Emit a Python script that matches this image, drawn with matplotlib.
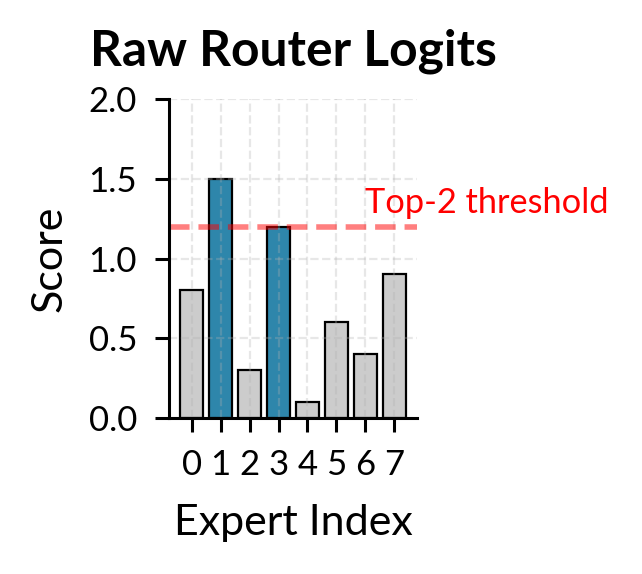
import matplotlib
matplotlib.use("Agg")
import matplotlib.pyplot as plt

# Data
experts = [0, 1, 2, 3, 4, 5, 6, 7]
logits = [0.8, 1.5, 0.3, 1.2, 0.1, 0.6, 0.4, 0.9]
selected = [1, 3]
threshold = 1.2
title = "Raw Router Logits"
xlabel = "Expert Index"
ylabel = "Score"
yticks = [0.0, 0.5, 1.0, 1.5, 2.0]

plt.rcParams["font.family"] = ["Lato", "DejaVu Sans"]

fig = plt.figure(figsize=(3.21, 2.87), dpi=200)
ax = fig.add_axes([0.2632, 0.2718, 0.3863, 0.5557])

colors = ["#2E86AB" if i in selected else "#CCCCCC" for i in experts]
ax.bar(experts, logits, width=0.8, color=colors, edgecolor="black", linewidth=0.8)
ax.axhline(threshold, color="red", linestyle="--", linewidth=2, alpha=0.5)
ax.text(6, threshold + 0.05, "Top-2 threshold", color="red", fontsize=12.4,
        ha="left", va="bottom")

ax.set_ylim(0, 2.0)
ax.set_yticks(yticks)
ax.set_yticklabels([f"{v:.1f}" for v in yticks])
ax.set_xticks(experts)
ax.grid(True, linestyle="--", color="#b0b0b0", linewidth=0.8, alpha=0.3)

for s in ["top", "right"]:
    ax.spines[s].set_visible(False)
for s in ["left", "bottom"]:
    ax.spines[s].set_linewidth(1.1)
ax.tick_params(axis="both", length=5, width=1.1, labelsize=12.5)
ax.tick_params(axis="x", pad=6)
ax.tick_params(axis="y", pad=6.5)

ax.set_xlabel(xlabel, fontsize=15.5, labelpad=8.5)
ax.set_ylabel(ylabel, fontsize=15.5, labelpad=7.2)
ax.set_title(title, fontsize=17.9, fontweight="bold", pad=12)

fig.savefig("out.png", dpi=200)
